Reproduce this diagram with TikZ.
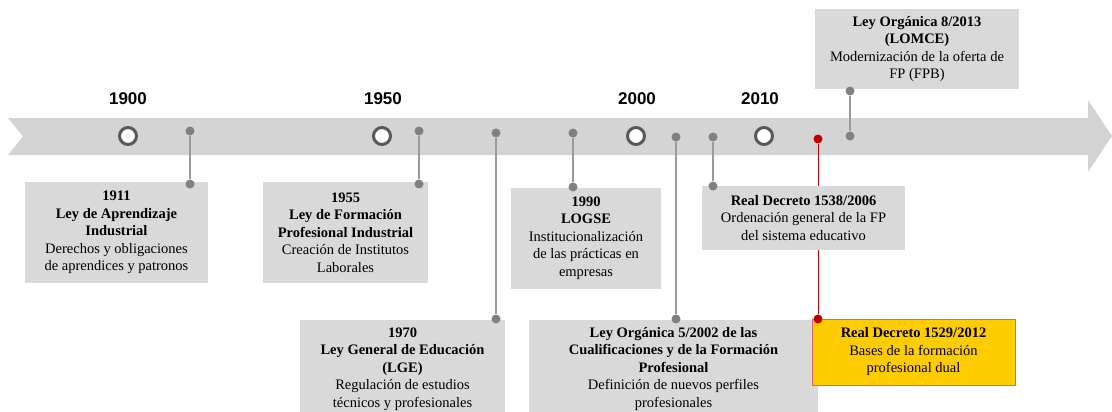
\documentclass[tikz,border=0pt]{standalone}
\usepackage{fontspec}
\setmainfont{Liberation Serif}
\newfontfamily\yearfont{Liberation Sans}
\usetikzlibrary{backgrounds}
\definecolor{bandgray}{HTML}{D4D4D4}
\definecolor{boxgray}{HTML}{D9D9D9}
\definecolor{ringgray}{HTML}{595959}
\definecolor{dotgray}{HTML}{808080}
\definecolor{linegray}{HTML}{9A9A9A}
\definecolor{dualred}{HTML}{C00000}
\definecolor{dualyellow}{HTML}{FFCC00}
\definecolor{dualedge}{HTML}{E06666}

\begin{document}
\begin{tikzpicture}[x=1pt,y=-1pt,
    ring/.style={circle,draw=ringgray,line width=3pt,fill=white,minimum size=17pt,inner sep=0pt},
    dot/.style={circle,fill=dotgray,minimum size=9pt,inner sep=0pt},
    reddot/.style={dot,fill=dualred},
    year/.style={font=\yearfont\bfseries\fontsize{17}{20}\selectfont},
    event/.style={fill=boxgray,align=center,inner sep=0pt,font=\fontsize{14.5}{17.5}\selectfont},
    dual/.style={event,fill=dualyellow,draw=dualedge,line width=1pt},
    link/.style={draw=linegray,line width=1.3pt},
    redlink/.style={draw=dualred,line width=1pt}]
    \useasboundingbox (0,0) rectangle (1112,412);
    \clip (0,0) rectangle (1112,412);

    % years on the band
    \node[ring] (y1900) at (128,136) {};
    \node[ring] (y1950) at (382,136) {};
    \node[ring] (y2000) at (636,136) {};
    \node[ring] (y2010) at (764,136) {};
    \node[year] (t1900) at (128,99) {1900};
    \node[year] (t1950) at (383,99) {1950};
    \node[year] (t2000) at (637,99) {2000};
    \node[year] (t2010) at (760,99) {2010};

    % event boxes
    \node[event,minimum width=183pt,minimum height=101pt] (b1911) at (116.5,232.5)
        {\textbf{1911}\\\textbf{Ley de Aprendizaje}\\\textbf{Industrial}\\Derechos y obligaciones\\de aprendices y patronos};
    \node[event,minimum width=165pt,minimum height=101pt] (b1955) at (345.5,232.5)
        {\textbf{1955}\\\textbf{Ley de Formación}\\\textbf{Profesional Industrial}\\Creación de Institutos\\Laborales};
    \node[event,minimum width=205pt,minimum height=98pt] (b1970) at (402.5,369)
        {\textbf{1970}\\\textbf{Ley General de Educación}\\\textbf{(LGE)}\\Regulación de estudios\\técnicos y profesionales};
    \node[event,minimum width=150pt,minimum height=101pt] (b1990) at (586,238)
        {\textbf{1990}\\\textbf{LOGSE}\\Institucionalización\\de las prácticas en\\empresas};
    \node[event,minimum width=289pt,minimum height=98pt] (b2002) at (673.5,369)
        {\textbf{Ley Orgánica 5/2002 de las}\\\textbf{Cualificaciones y de la Formación}\\\textbf{Profesional}\\Definición de nuevos perfiles\\profesionales};
    \node[event,minimum width=203pt,minimum height=64pt] (b2006) at (803.5,218)
        {\textbf{Real Decreto 1538/2006}\\Ordenación general de la FP\\del sistema educativo};
    \node[dual,minimum width=203pt,minimum height=66pt] (b2012) at (913.5,352)
        {\textbf{Real Decreto 1529/2012}\\Bases de la formación\\profesional dual};
    \node[event,minimum width=204pt,minimum height=80pt] (b2013) at (917,49)
        {\textbf{Ley Orgánica 8/2013}\\\textbf{(LOMCE)}\\Modernización de la oferta de\\FP (FPB)};

    % dots on the band and on the boxes
    \node[dot] (d1911) at (190,131) {};
    \node[dot] (e1911) at (190,184) {};
    \node[dot] (d1955) at (419,131) {};
    \node[dot] (e1955) at (419,184) {};
    \node[dot] (d1970) at (496,133) {};
    \node[dot] (e1970) at (496,319) {};
    \node[dot] (d1990) at (573,133) {};
    \node[dot] (e1990) at (573,187) {};
    \node[dot] (d2002) at (676,137) {};
    \node[dot] (e2002) at (676,319) {};
    \node[dot] (d2006) at (713,137) {};
    \node[dot] (e2006) at (713,186) {};
    \node[reddot] (d2012) at (818,139) {};
    \node[reddot] (e2012) at (818,319) {};
    \node[dot] (d2013) at (850,136) {};
    \node[dot] (e2013) at (850,91) {};

    \begin{scope}[on background layer]
        \fill[bandgray] (8,118) -- (1088,118) -- (1088,100) -- (1112,136)
            -- (1088,172) -- (1088,155) -- (8,155) -- (23,136.5) -- cycle;
        \draw[link] (d1911) -- (e1911);
        \draw[link] (d1955) -- (e1955);
        \draw[link] (d1970) -- (e1970);
        \draw[link] (d1990) -- (e1990);
        \draw[link] (d2002) -- (e2002);
        \draw[link] (d2006) -- (e2006);
        \draw[redlink] (d2012) -- (e2012);
        \draw[link] (d2013) -- (e2013);
    \end{scope}
\end{tikzpicture}
\end{document}
